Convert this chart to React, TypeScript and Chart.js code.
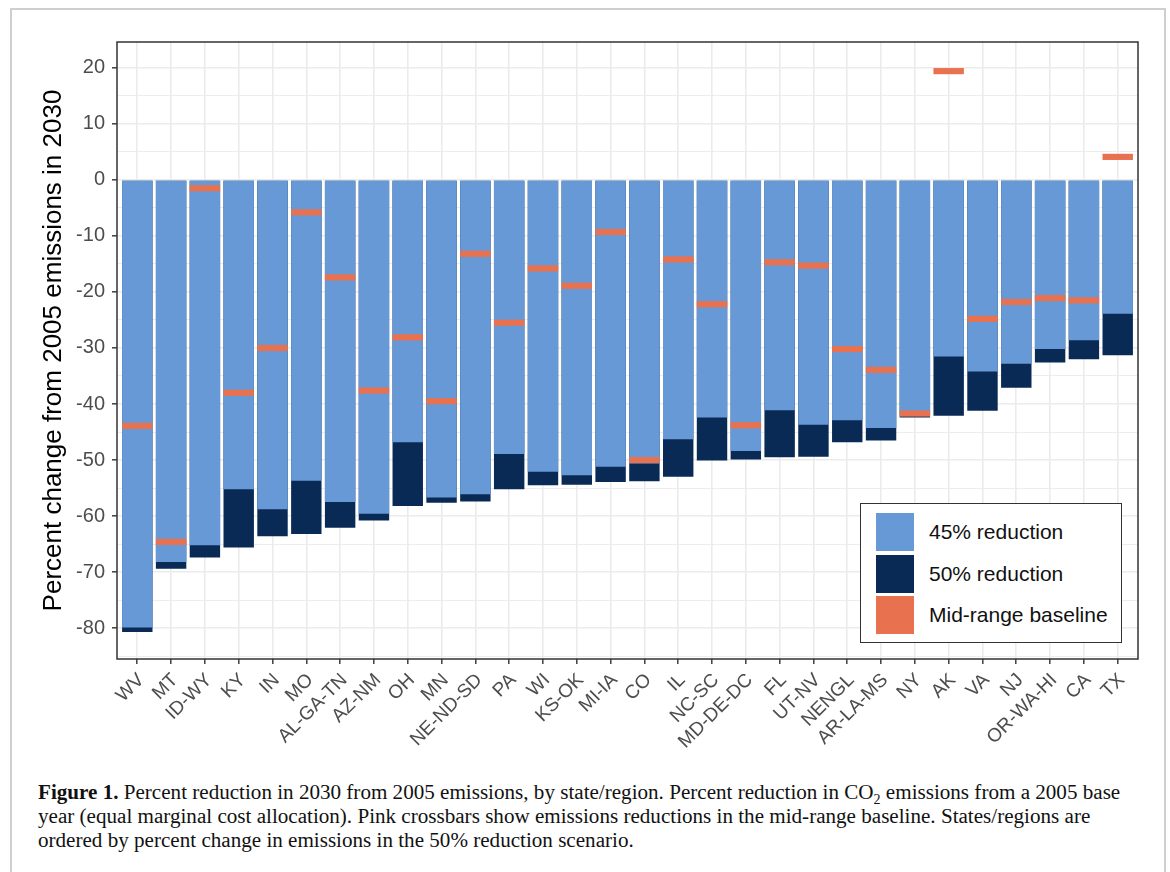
import React, { useEffect, useRef } from 'react';
import { Chart, registerables } from 'chart.js';

Chart.register(...registerables);

const CATEGORIES = ['WV', 'MT', 'ID-WY', 'KY', 'IN', 'MO', 'AL-GA-TN', 'AZ-NM', 'OH', 'MN', 'NE-ND-SD', 'PA', 'WI', 'KS-OK', 'MI-IA', 'CO', 'IL', 'NC-SC', 'MD-DE-DC', 'FL', 'UT-NV', 'NENGL', 'AR-LA-MS', 'NY', 'AK', 'VA', 'NJ', 'OR-WA-HI', 'CA', 'TX'];

const REDUCTION_45 = [-79.9, -68.2, -65.2, -55.2, -58.8, -53.7, -57.5, -59.6, -46.8, -56.7, -56.1, -48.9, -52.1, -52.7, -51.2, -50.6, -46.3, -42.4, -48.4, -41.1, -43.7, -42.9, -44.3, -42.0, -31.5, -34.2, -32.8, -30.2, -28.6, -23.9];

const REDUCTION_50 = [-80.7, -69.4, -67.4, -65.6, -63.6, -63.2, -62.1, -60.8, -58.2, -57.6, -57.4, -55.2, -54.5, -54.4, -53.9, -53.8, -53.0, -50.1, -49.9, -49.5, -49.4, -46.8, -46.5, -42.4, -42.1, -41.2, -37.1, -32.6, -32.0, -31.3];

const BASELINE = [-43.9, -64.6, -1.5, -38.0, -30.0, -5.8, -17.4, -37.6, -28.1, -39.5, -13.2, -25.5, -15.8, -18.9, -9.3, -50.0, -14.2, -22.2, -43.8, -14.7, -15.3, -30.2, -33.9, -41.7, 19.4, -24.8, -21.8, -21.1, -21.5, 4.1];

const Y_MIN = -85.5;
const Y_MAX = 24.6;
const CROSSBAR_HALF = 0.55;

const LIGHT = '#6699D5';
const DARK = '#0A2A56';
const ORANGE = '#E8714F';

const LEGEND_ITEMS = [
  { label: '45% reduction', color: LIGHT },
  { label: '50% reduction', color: DARK },
  { label: 'Mid-range baseline', color: ORANGE },
];

export default function App() {
  const canvasRef = useRef<HTMLCanvasElement | null>(null);

  useEffect(() => {
    const canvas = canvasRef.current;
    if (!canvas) return;
    Chart.defaults.font.family = '"Liberation Sans", Arial, Helvetica, sans-serif';

    const panelBorder = {
      id: 'panelBorder',
      afterDraw(chart: any) {
        const { ctx, chartArea } = chart;
        ctx.save();
        ctx.strokeStyle = '#333333';
        ctx.lineWidth = 1.5;
        ctx.strokeRect(chartArea.left, chartArea.top, chartArea.right - chartArea.left, chartArea.bottom - chartArea.top);
        ctx.restore();
      },
    };

    const common = { grouped: false, barPercentage: 0.9, categoryPercentage: 1, borderWidth: 0 };

    const chart = new Chart(canvas, {
      type: 'bar',
      data: {
        datasets: [
          {
            ...common,
            label: 'Mid-range baseline',
            order: 0,
            backgroundColor: ORANGE,
            data: BASELINE.map((v, i) => ({ x: i, y: [v - CROSSBAR_HALF, v + CROSSBAR_HALF] })),
          } as any,
          {
            ...common,
            label: '45% reduction',
            order: 1,
            backgroundColor: LIGHT,
            data: REDUCTION_45.map((v, i) => ({ x: i, y: v })),
          } as any,
          {
            ...common,
            label: '50% reduction',
            order: 2,
            backgroundColor: DARK,
            data: REDUCTION_50.map((v, i) => ({ x: i, y: v })),
          } as any,
        ],
      },
      options: {
        animation: false,
        responsive: false,
        maintainAspectRatio: false,
        layout: { padding: { left: 0, top: 42, right: 32, bottom: 0 } },
        plugins: { legend: { display: false }, tooltip: { enabled: false } },
        scales: {
          x: {
            type: 'linear',
            min: -0.6,
            max: CATEGORIES.length - 1 + 0.6,
            offset: false,
            afterBuildTicks: (s: any) => {
              s.ticks = CATEGORIES.map((_, i) => ({ value: i }));
            },
            afterFit: (s: any) => {
              s.height = 101;
            },
            ticks: {
              autoSkip: false,
              minRotation: 45,
              maxRotation: 45,
              padding: 5,
              labelOffset: 4,
              color: '#4D4D4D',
              font: { size: 19 },
              callback: (v: any) => CATEGORIES[v as number] ?? '',
            },
            grid: { offset: false, color: '#EBEBEB', lineWidth: 1.6, tickLength: 5, tickColor: '#333333', tickWidth: 1.4 },
            border: { display: false },
          },
          y: {
            min: Y_MIN,
            max: Y_MAX,
            afterFit: (s: any) => {
              s.width = 117;
            },
            ticks: {
              stepSize: 5,
              includeBounds: false,
              autoSkip: false,
              padding: 7,
              color: '#4D4D4D',
              font: { size: 20 },
              callback: (v: any) => (Number(v) % 10 === 0 ? String(v) : ''),
            },
            grid: {
              color: '#EBEBEB',
              lineWidth: (c: any) => (c.tick && c.tick.value % 10 === 0 ? 1.6 : 0.9),
              tickLength: 5,
              tickWidth: 1.4,
              tickColor: (c: any) => (c.tick && c.tick.value % 10 === 0 ? '#333333' : 'rgba(0,0,0,0)'),
            },
            border: { display: false },
            title: {
              display: true,
              text: 'Percent change from 2005 emissions in 2030',
              color: '#000000',
              font: { size: 26 },
              padding: { top: 38, bottom: 0 },
            },
          },
        },
      } as any,
      plugins: [panelBorder],
    });

    return () => chart.destroy();
  }, []);

  return (
    <div style={{ position: 'absolute', left: 0, top: 0, width: 1170, height: 872, overflow: 'hidden', background: '#fff' }}>
      <div
        style={{
          position: 'absolute',
          left: 10,
          top: 8,
          width: 1156,
          height: 900,
          border: '2px solid #CFCFCF',
          boxSizing: 'border-box',
        }}
      />
      <canvas ref={canvasRef} width={1170} height={760} style={{ position: 'absolute', left: 0, top: 0, width: 1170, height: 760 }} />
      <div
        style={{
          position: 'absolute',
          left: 860,
          top: 503,
          width: 262,
          height: 140,
          border: '1.5px solid #333',
          boxSizing: 'border-box',
          background: '#fff',
          fontFamily: '"Liberation Sans", Arial, sans-serif',
        }}
      >
        {LEGEND_ITEMS.map((it, i) => (
          <div key={it.label} style={{ position: 'absolute', left: 15, top: 9 + i * 41.5, height: 38, display: 'flex', alignItems: 'center' }}>
            <div style={{ width: 38, height: 38, background: it.color }} />
            <span style={{ marginLeft: 15, fontSize: 21, color: '#111', whiteSpace: 'nowrap' }}>{it.label}</span>
          </div>
        ))}
      </div>
      <div
        style={{
          position: 'absolute',
          left: 38,
          top: 780,
          fontFamily: '"Liberation Serif", "Times New Roman", serif',
          fontSize: 21.1,
          lineHeight: '24px',
          color: '#111',
          whiteSpace: 'nowrap',
        }}
      >
        <b>Figure 1.</b> Percent reduction in 2030 from 2005 emissions, by state/region. Percent reduction in CO<sub style={{ fontSize: 14, lineHeight: 0 }}>2</sub> emissions from a 2005 base
        <br />
        year (equal marginal cost allocation). Pink crossbars show emissions reductions in the mid-range baseline. States/regions are
        <br />
        ordered by percent change in emissions in the 50% reduction scenario.
      </div>
    </div>
  );
}
